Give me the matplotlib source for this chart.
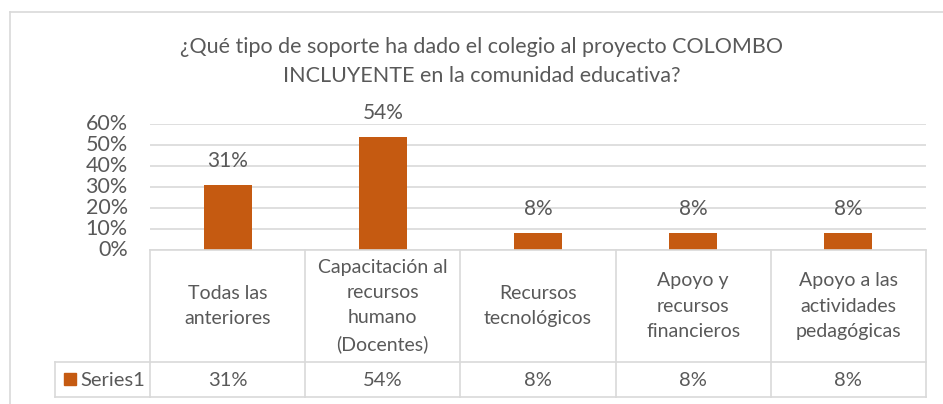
import matplotlib
matplotlib.use("Agg")
import matplotlib.pyplot as plt
from matplotlib.lines import Line2D
from matplotlib.patches import Rectangle
from matplotlib.transforms import blended_transform_factory
from matplotlib.ticker import PercentFormatter

categories = ["Todas las\nanteriores",
              "Capacitación al\nrecursos\nhumano\n(Docentes)",
              "Recursos\ntecnológicos",
              "Apoyo y\nrecursos\nfinancieros",
              "Apoyo a las\nactividades\npedagógicas"]
values = [0.31, 0.54, 0.08, 0.08, 0.08]
series_name = "Series1"
title = "¿Qué tipo de soporte ha dado el colegio al proyecto COLOMBO\nINCLUYENTE en la comunidad educativa?"

W, H = 943, 404
BAR = "#C55A11"
TXT = "#595959"
GRID = "#D9D9D9"
FONT = ["Lato", "DejaVu Sans"]
plt.rcParams["font.family"] = FONT

fig = plt.figure(figsize=(W / 100, H / 100), dpi=100)
fig.patch.set_facecolor("white")

def fx(px):
    return px / W

def fy(py):
    return 1 - py / H

# chart border (left and top visible)
fig.add_artist(Line2D([fx(10), fx(10)], [fy(12), fy(404)], color=GRID, lw=1.2))
fig.add_artist(Line2D([fx(10), fx(943)], [fy(12), fy(12)], color=GRID, lw=1.2))

ax = fig.add_axes([fx(150), fy(250), fx(926) - fx(150), (250 - 124) / H])
x = list(range(len(values)))
ax.bar(x, values, width=0.31, color=BAR, zorder=3)
ax.set_xlim(-0.5, len(values) - 0.5)
ax.set_ylim(0, 0.6)
ax.set_yticks([0, 0.1, 0.2, 0.3, 0.4, 0.5, 0.6])
ax.yaxis.set_major_formatter(PercentFormatter(1.0, decimals=0))
ax.grid(axis="y", color=GRID, lw=1.2, zorder=0)
for s in ax.spines.values():
    s.set_visible(False)
ax.set_xticks([])
ax.tick_params(axis="y", length=0, pad=16, labelsize=15.5, labelcolor=TXT)
for lab in ax.get_yticklabels():
    lab.set_verticalalignment("center")

for xi, v in zip(x, values):
    ax.annotate(f"{v:.0%}", (xi, v), xytext=(0, 10), textcoords="offset points",
                ha="center", va="bottom", fontsize=15, color=TXT)

fig.suptitle(title, x=fx(482), y=fy(37), va="top", fontsize=15.5, color=TXT,
             linespacing=1.55)

# data table
tr = blended_transform_factory(ax.transData, fig.transFigure)
bounds = [i - 0.5 for i in range(len(values) + 1)]
y_top, y_mid, y_bot = fy(250), fy(362), fy(397)
lw = 1.2
fig.add_artist(Line2D([bounds[0], bounds[-1]], [y_top, y_top], color=GRID, lw=lw, transform=tr))
fig.add_artist(Line2D([bounds[0], bounds[-1]], [y_mid, y_mid], color=GRID, lw=lw, transform=tr))
fig.add_artist(Line2D([bounds[0], bounds[-1]], [y_bot, y_bot], color=GRID, lw=lw, transform=tr))
fig.add_artist(Line2D([fx(55), fx(150)], [y_mid, y_mid], color=GRID, lw=lw))
fig.add_artist(Line2D([fx(55), fx(150)], [y_bot, y_bot], color=GRID, lw=lw))
fig.add_artist(Line2D([fx(55), fx(55)], [y_mid, y_bot], color=GRID, lw=lw))
for b in bounds:
    fig.add_artist(Line2D([b, b], [y_top, y_bot], color=GRID, lw=lw, transform=tr))

for xi, cat, v in zip(x, categories, values):
    fig.text(xi, fy(306), cat, transform=tr, ha="center", va="center",
             fontsize=14, color=TXT, linespacing=1.58)
    fig.text(xi, fy(380), f"{v:.0%}", transform=tr, ha="center", va="center",
             fontsize=14.5, color=TXT)

fig.add_artist(Rectangle((fx(64), fy(385)), fx(76) - fx(64), (385 - 373) / H,
                         color=BAR, transform=fig.transFigure))
fig.text(fx(80), fy(380), series_name, ha="left", va="center", fontsize=14.5, color=TXT)

fig.savefig("out.png", dpi=100, facecolor="white")
